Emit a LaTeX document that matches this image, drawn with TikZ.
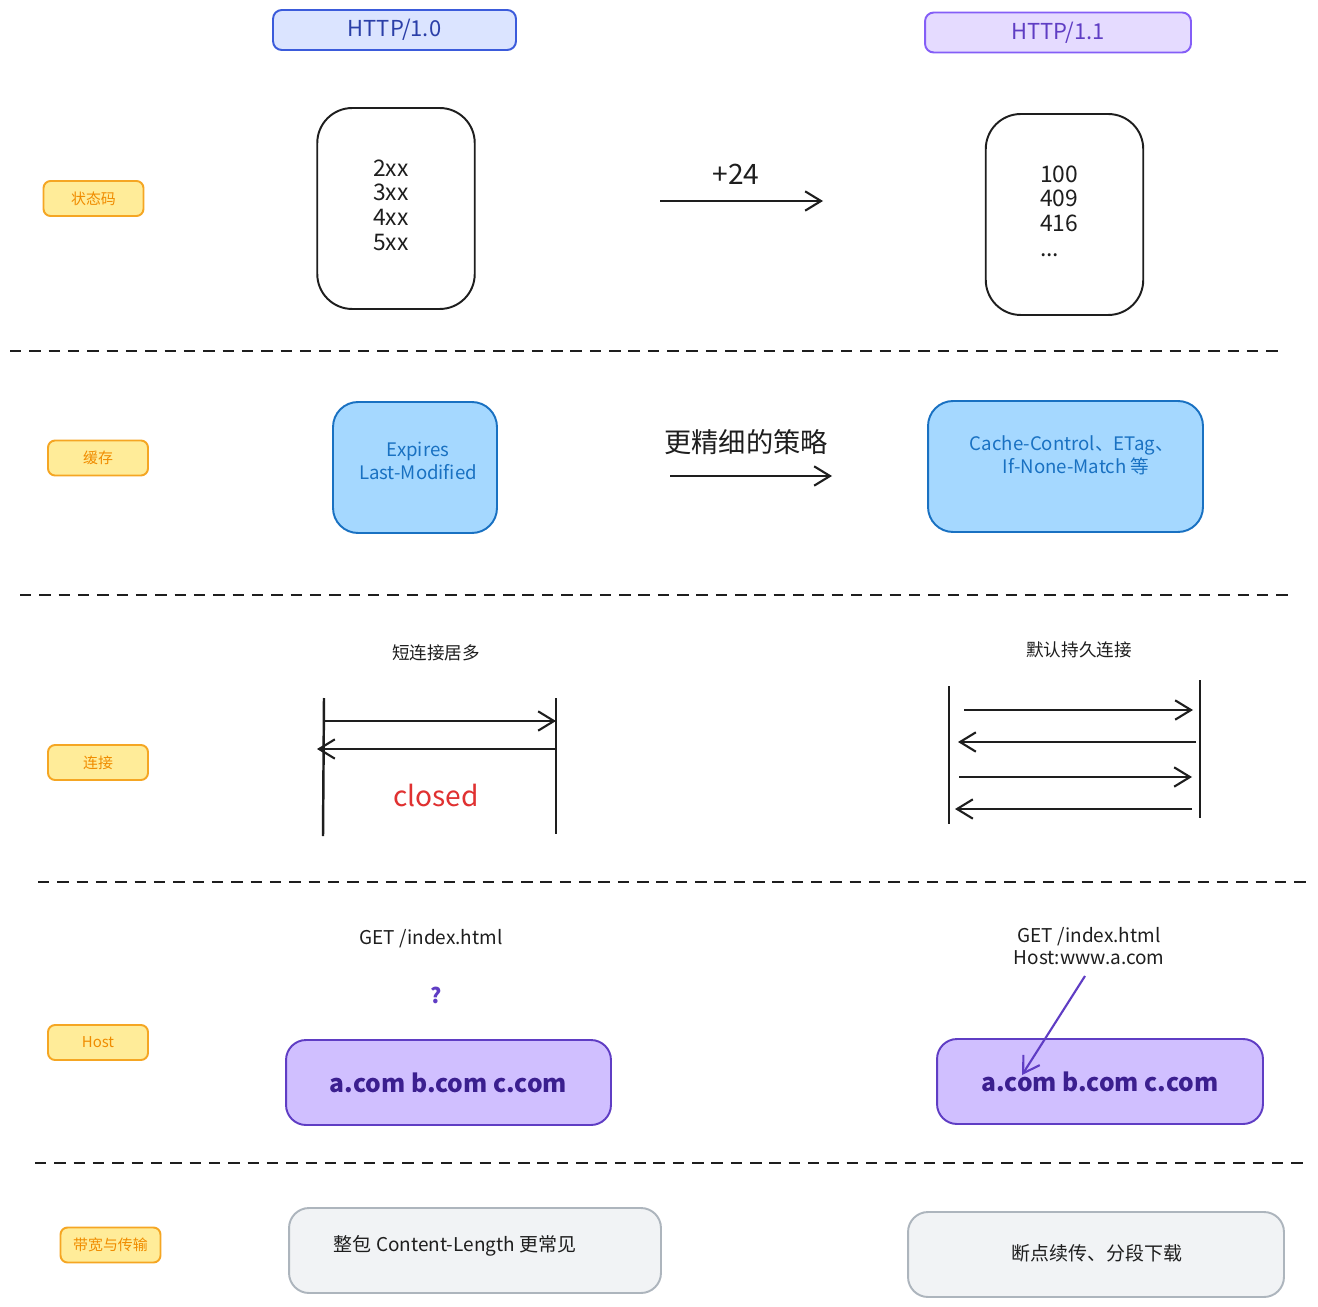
\documentclass[tikz,border=0pt]{standalone}
\usepackage{fontspec}
\setmainfont{Noto Sans CJK SC}
\usetikzlibrary{arrows.meta}
\definecolor{tagfill}{HTML}{FFEC99}
\definecolor{tagline}{HTML}{F5A623}
\definecolor{tagtext}{HTML}{F08C00}
\definecolor{oldfill}{HTML}{DBE4FF}
\definecolor{oldline}{HTML}{3B5BDB}
\definecolor{oldtext}{HTML}{2B3FA8}
\definecolor{newfill}{HTML}{E5DBFF}
\definecolor{newline}{HTML}{845EF7}
\definecolor{newtext}{HTML}{5F3DC4}
\definecolor{cachefill}{HTML}{A5D8FF}
\definecolor{cacheline}{HTML}{1971C2}
\definecolor{hostfill}{HTML}{D0BFFF}
\definecolor{hostline}{HTML}{5F3DC4}
\definecolor{hosttext}{HTML}{3B1F8F}
\definecolor{bwfill}{HTML}{F1F3F5}
\definecolor{bwline}{HTML}{ADB5BD}
\definecolor{closedred}{HTML}{E03131}
\definecolor{ink}{HTML}{1E1E1E}
\tikzset{
  tagbox/.style={draw=tagline, fill=tagfill, text=tagtext, line width=1.1pt, rounded corners=4pt,
    minimum width=2cm, minimum height=0.7cm, font=\fontsize{8.5}{10}\selectfont},
  versionbox/.style={line width=1.1pt, rounded corners=5pt, minimum height=0.8cm,
    font=\fontsize{12.5}{14}\selectfont},
  codebox/.style={draw=ink, line width=1.1pt, rounded corners=0.7cm, minimum width=3.15cm,
    minimum height=4.02cm},
  codetext/.style={text=ink, font=\fontsize{13}{14}\selectfont},
  cachebox/.style={draw=cacheline, fill=cachefill, line width=1.1pt,
    rounded corners=0.5cm, minimum height=2.62cm},
  cachetext/.style={text=cacheline, align=center, font=\fontsize{10.6}{13}\selectfont},
  hostbox/.style={draw=hostline, fill=hostfill, text=hosttext, line width=1.1pt, rounded corners=0.4cm,
    minimum width=6.5cm, minimum height=1.7cm, font=\fontsize{14}{16}\selectfont\bfseries},
  bwbox/.style={draw=bwline, fill=bwfill, line width=1.1pt, rounded corners=0.4cm,
    minimum height=1.7cm},
  note/.style={text=ink, align=center, font=\fontsize{10.8}{13}\selectfont},
  barb/.style={ink, line width=1.2pt, -{Straight Barb[length=9pt,width=11pt]}},
  lane/.style={ink, line width=1.4pt},
  divider/.style={ink, line width=1.1pt, dash pattern=on 6.5pt off 4.5pt}
}
\begin{document}
\begin{tikzpicture}[x=0.02cm, y=-0.02cm]
		%%%%% START %%%%%
		\useasboundingbox (0, 0) rectangle (1318, 1307);
		\fill[white] (0, 0) rectangle (1318, 1307);
		
		% versions
		\node[versionbox, draw=oldline, fill=oldfill, text=oldtext, minimum width=4.86cm] (v10) at (394.5, 30) {HTTP/1.0};
		\node[versionbox, draw=newline, fill=newfill, text=newtext, minimum width=5.32cm] (v11) at (1058, 32.5) {HTTP/1.1};
		
		% row labels
		\node[tagbox] (status) at (93.5, 198.5) {状态码};
		\node[tagbox] (cache) at (98, 458) {缓存};
		\node[tagbox] (conn) at (98, 762.5) {连接};
		\node[tagbox] (host) at (98, 1042.5) {Host};
		\node[tagbox] (bw) at (110.5, 1245) {带宽与传输};
		
		% status codes
		\node[codebox] (code10) at (396, 208.5) {};
		\node[codetext, align=center] (code10 text) at (391, 205) {2xx\\3xx\\4xx\\5xx};
		\node[codebox] (code11) at (1064.5, 214.5) {};
		\node[codetext, align=left] (code11 text) at (1059, 211) {100\\409\\416\\...};
		\coordinate (plus a) at (660, 201);
		\coordinate (plus b) at (823, 201);
		\draw[barb] (plus a) -- (plus b);
		\node[text=ink, font=\fontsize{16}{18}\selectfont] (plus) at (736, 174) {+24};
		
		\draw[divider] (10, 351) -- (1280, 351);
		
		% cache
		\node[cachebox, minimum width=3.28cm] (cache10) at (415, 467.5) {};
		\node[cachetext] (cache10 text) at (418, 461) {Expires\\Last-Modified};
		\node[cachebox, minimum width=5.5cm] (cache11) at (1065.5, 466.5) {};
		\node[cachetext] (cache11 text) at (1072, 455) {Cache-Control、ETag、\\\ \ If-None-Match 等};
		\coordinate (fine a) at (670, 476);
		\coordinate (fine b) at (832, 476);
		\draw[barb] (fine a) -- (fine b);
		\node[text=ink, font=\fontsize{15.5}{18}\selectfont] (fine) at (746, 442) {更精细的策略};
		
		\draw[divider] (20, 595) -- (1290, 595);
		
		% short connection
		\node[note, font=\fontsize{10}{12}\selectfont] (short) at (436, 653) {短连接居多};
		\coordinate (sl top) at (324, 698);
		\coordinate (sl bot) at (323, 836);
		\coordinate (sr top) at (556, 698);
		\coordinate (sr bot) at (556, 834);
		\draw[lane] (sl top) -- (sl bot);
		\draw[lane] (sr top) -- (sr bot);
		\draw[barb] (324, 721) -- (556, 721);
		\draw[barb] (556, 749) -- (317, 749);
		\node[text=closedred, font=\fontsize{16}{18}\selectfont] (closed) at (436, 795) {closed};
		
		% keep-alive
		\node[note, font=\fontsize{10}{12}\selectfont] (keep) at (1079, 650) {默认持久连接};
		\coordinate (kl top) at (949, 686);
		\coordinate (kl bot) at (949, 824);
		\coordinate (kr top) at (1200, 680);
		\coordinate (kr bot) at (1200, 818);
		\draw[lane] (kl top) -- (kl bot);
		\draw[lane] (kr top) -- (kr bot);
		\draw[barb] (964, 710) -- (1193, 710);
		\draw[barb] (1196, 742) -- (958, 742);
		\draw[barb] (959, 777) -- (1192, 777);
		\draw[barb] (1192, 809) -- (955, 809);
		
		\draw[divider] (38, 882) -- (1308, 882);
		
		% host
		\node[note] (req10) at (431, 939) {GET /index.html};
		\node[text=newtext, font=\fontsize{12}{14}\selectfont\bfseries] (ask) at (436, 995) {?};
		\node[hostbox] (host10) at (448.5, 1082.5) {a.com b.com c.com};
		\node[note] (req11) at (1089, 946) {GET /index.html\\Host:www.a.com};
		\node[hostbox, minimum width=6.52cm] (host11) at (1100, 1081.5) {a.com b.com c.com};
		\coordinate (pick a) at (1085, 976);
		\coordinate (pick b) at (1022, 1075);
		\draw[barb, hostline] (pick a) -- (pick b);
		
		\draw[divider] (35, 1163) -- (1305, 1163);
		
		% bandwidth
		\node[bwbox, minimum width=7.44cm] (bw10) at (475, 1250.5) {};
		\node[note] (bw10 text) at (455, 1246) {整包 Content-Length 更常见};
		\node[bwbox, minimum width=7.52cm] (bw11) at (1096, 1254.5) {};
		\node[note] (bw11 text) at (1097, 1253) {断点续传、分段下载};
		
		%%%%% END %%%%%
	\end{tikzpicture}
\end{document}
